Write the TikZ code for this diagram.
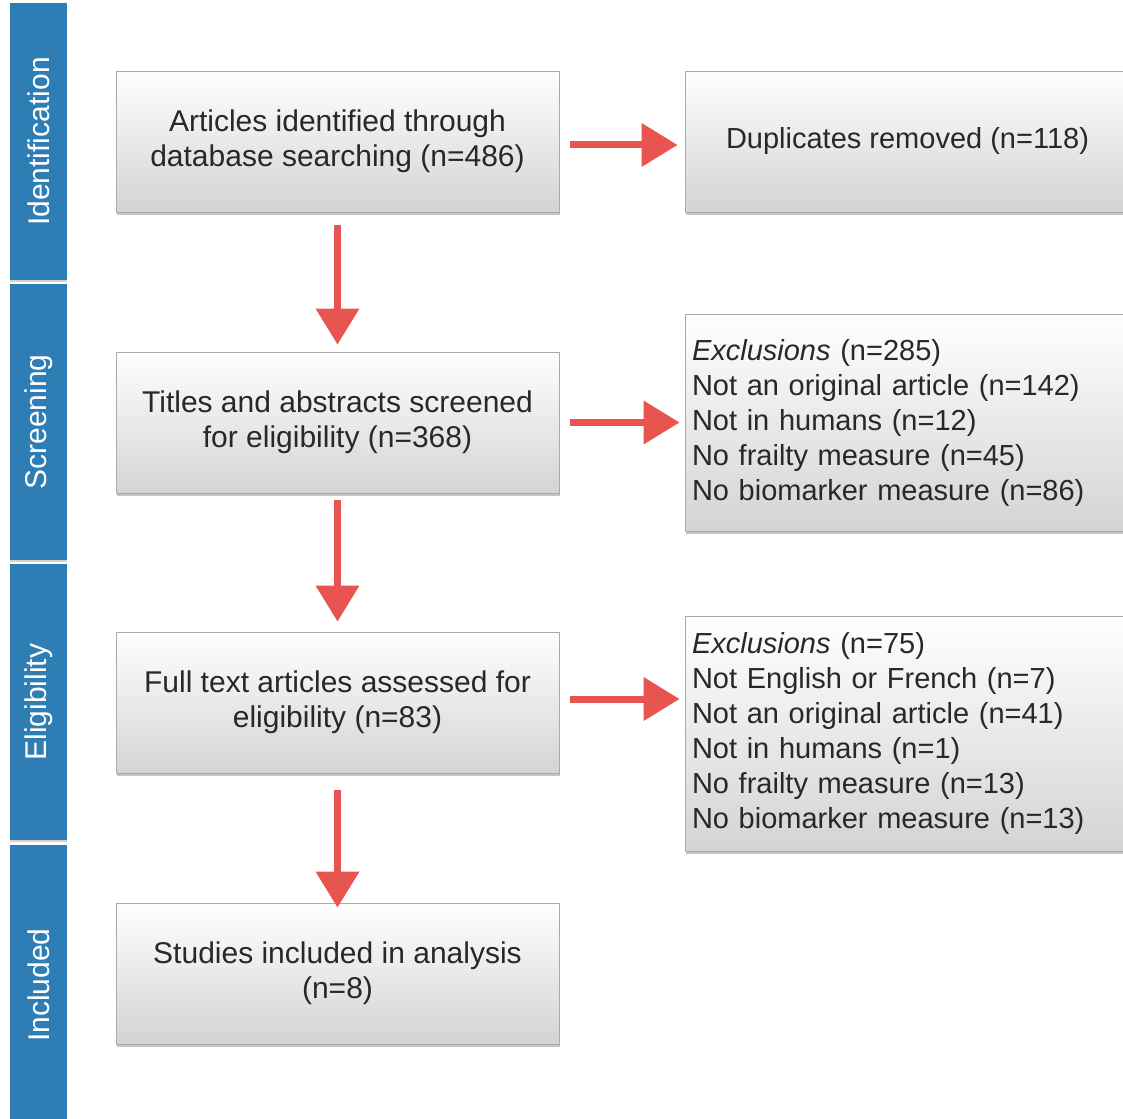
\documentclass[tikz,border=0pt]{standalone}
\usepackage{fontspec}
\setmainfont{Liberation Sans}
\usetikzlibrary{arrows.meta,shadows}
\definecolor{barblue}{RGB}{46,125,181}
\definecolor{arrred}{RGB}{232,84,80}
\definecolor{boxline}{RGB}{170,170,170}
\definecolor{txt}{RGB}{40,40,40}
\begin{document}
\begin{tikzpicture}[x=1pt,y=-1pt,
  bar/.style={fill=barblue, draw=none, rotate=90, minimum height=57, text=white,
    font=\fontsize{30}{36}\selectfont, inner sep=0pt,
    drop shadow={shadow xshift=0pt, shadow yshift=-2pt, opacity=0.35}},
  flowbox/.style={draw=boxline, line width=0.8pt, top color=white, bottom color=black!17,
    minimum width=443, align=center, text=txt, font=\fontsize{30}{35}\selectfont,
    drop shadow={shadow xshift=1pt, shadow yshift=-3pt, opacity=0.45}},
  sidebox/.style={draw=boxline, line width=0.8pt, top color=white, bottom color=black!17,
    minimum width=445, text=txt, font=\fontsize{29}{35}\selectfont,
    drop shadow={shadow xshift=1pt, shadow yshift=-3pt, opacity=0.45}},
  redarrow/.style={draw=arrred, line width=7pt, -{Triangle[length=36pt,width=42pt]}}
]
\useasboundingbox (0,0) rectangle (1123,1118);
\clip (0,0) rectangle (1123,1118);
% sidebars
\node[bar, minimum width=277] (s1) at (38.5,141.5) {Identification};
\node[bar, minimum width=276] (s2) at (38.5,422) {Screening};
\node[bar, minimum width=276] (s3) at (38.5,702) {Eligibility};
\node[bar, minimum width=280] (s4) at (38.5,985) {Included};
% left boxes
\node[flowbox, minimum height=141] (b1) at (337.5,141.5) {Articles identified through\\database searching (n=486)};
\node[flowbox, minimum height=141] (b2) at (337.5,422.5) {Titles and abstracts screened\\for eligibility (n=368)};
\node[flowbox, minimum height=141] (b3) at (337.5,702.5) {Full text articles assessed for\\eligibility (n=83)};
\node[flowbox, minimum height=141] (b4) at (337.5,973.5) {Studies included in analysis\\(n=8)};
% right boxes
\node[sidebox, minimum height=141, align=center] (r1) at (907.5,141.5) {Duplicates removed (n=118)};
\node[sidebox, minimum height=217, text width=431, align=left, inner sep=7pt] (r2) at (907.5,422.5)
  {\textit{Exclusions} (n=285)\\Not an original article (n=142)\\Not in humans (n=12)\\No frailty measure (n=45)\\No biomarker measure (n=86)};
\node[sidebox, minimum height=235, text width=431, align=left, inner sep=7pt] (r3) at (907.5,733.5)
  {\textit{Exclusions} (n=75)\\Not English or French (n=7)\\Not an original article (n=41)\\Not in humans (n=1)\\No frailty measure (n=13)\\No biomarker measure (n=13)};
% arrows
\draw[redarrow, shorten <=11pt, shorten >=7pt] (b1.east |- 0,145) -- (r1.west |- 0,145);
\draw[redarrow, shorten <=11pt, shorten >=5pt] (b2.east) -- (r2.west |- b2.east);
\draw[redarrow, shorten <=11pt, shorten >=5pt] (b3.east |- 0,699) -- (r3.west |- 0,699);
\draw[redarrow, shorten <=13pt, shorten >=7pt] (b1.south) -- (b2.north);
\draw[redarrow, shorten <=7pt, shorten >=10pt] (b2.south) -- (b3.north);
\draw[redarrow, shorten <=17pt, shorten >=-5pt] (b3.south) -- (b4.north);
\end{tikzpicture}
\end{document}
